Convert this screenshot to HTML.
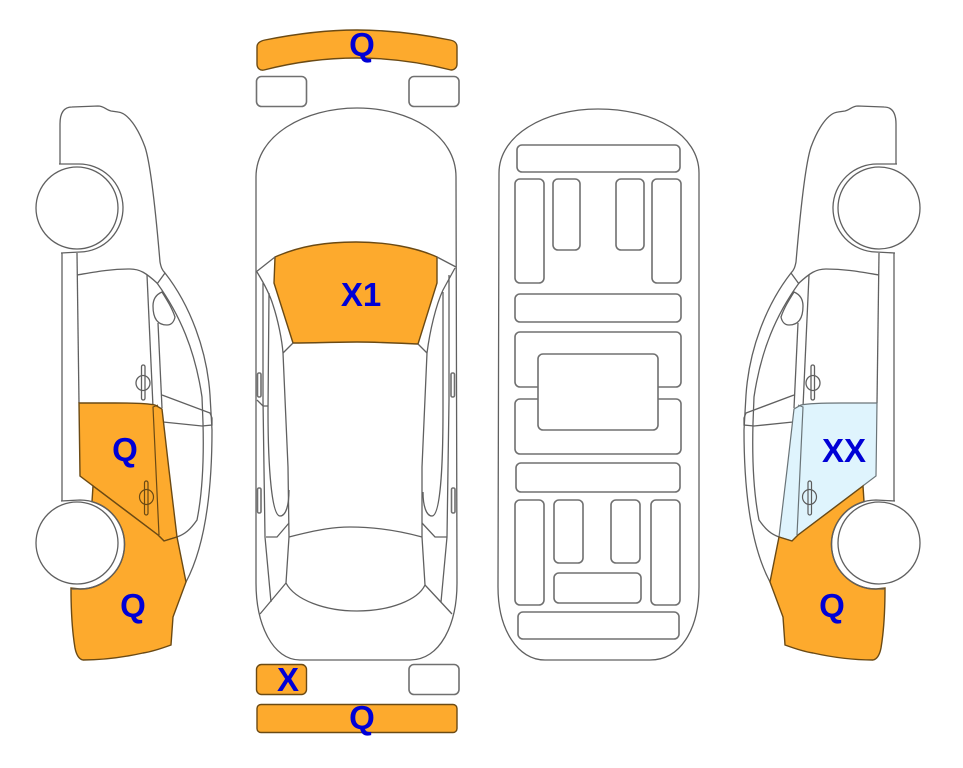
<!DOCTYPE html>
<html>
<head>
<meta charset="utf-8">
<style>
html,body{margin:0;padding:0;background:#fff;width:963px;height:768px;overflow:hidden}
svg{display:block}
.l{fill:none;stroke:#606060;stroke-width:1.3}
.w{fill:#fff;stroke:#606060;stroke-width:1.3}
.r{fill:#fff;stroke:#707070;stroke-width:1.6}
.o{fill:#fdaa2d;stroke:#6b4a14;stroke-width:1.4}
.b{fill:#dff4fd;stroke:#6a7478;stroke-width:1.2}
text{font-family:"Liberation Sans",Arial,sans-serif;font-weight:bold;font-size:33px;fill:#0000d6;text-anchor:middle}
</style>
</head>
<body>
<svg width="963" height="768" viewBox="0 0 963 768" xmlns="http://www.w3.org/2000/svg">
<defs>
<g id="side">
  <path class="l" d="M60 164 L60 124 C60 113 64 107 72 107 L98 106 C104 106 106 110 111 111 L118 112 C128 113 138 128 145 147 C151 165 156 215 160 262 C161 267 162 270 165 273 C190 305 207 350 210 395 L212 430 C212 500 203 550 186 582"/>
  <path class="l" d="M165 273 L157 284"/>
  <path class="l" d="M77 275 C95 272 110 269 130 269 C140 269 146 273 157 283 C180 315 195 350 202 397 L203 423 C204 460 202 495 197 520 C190 530 185 534 177 537"/>
  <path class="l" d="M62 253 L62 501"/>
  <path class="l" d="M77 253 L79 403"/>
  <path class="l" d="M147 275 L153 407"/>
  <path class="l" d="M158 323 L162 408"/>
  <path class="w" d="M162 292 C155 295 153 300 153 306 C153 318 157 325 167 325 C171 325 174 322 175 317 C172 308 167 300 162 292 Z"/>
  <path class="l" d="M162 395 L210 413 L212 418 L212 425 L202 426 L163 422"/>
  <rect class="w" x="141.500" y="365" width="3.500" height="35" rx="1.700"/>
  <ellipse class="l" cx="143" cy="383" rx="7" ry="7.500"/>
  <path class="l" d="M59 164 L78 164 A44 44 0 0 1 80 252 L61 253"/>
  <circle class="w" cx="77" cy="208" r="41"/>
</g>
<g id="sideLower">
  <path class="l" d="M61 501 L80 500 A44.500 44.500 0 0 1 80 589 L72 589"/>
  <circle class="w" cx="77" cy="543" r="41"/>
</g>
<path id="upper" d="M79 403 L115 403 C135 403 150 404 155 405 L162 409 L169 470 L177 537 L164 541 L158 535 L80 476 Z"/>
<path id="lower" d="M93 486 L158 535 L164 541 L177 537 L186 582 L173 617 L171 645 C160 649 150 652 143 653 C125 657 105 660 83 660 C78 659 76 653 75 648 C72 630 71 610 71 588 L80 589 A44.500 44.500 0 0 0 92 501.650 Z"/>
</defs>

<!-- left side view -->
<use href="#side"/>
<use href="#upper" class="o"/>
<use href="#lower" class="o"/>
<path d="M158 405 L153 407 L159 535" fill="none" stroke="#6b4a14" stroke-width="1.200"/>
<rect x="144.500" y="481" width="3.500" height="34" rx="1.700" fill="#fdaa2d" stroke="#6b4a14" stroke-width="1.200"/>
<ellipse cx="146.500" cy="497" rx="7" ry="7.500" fill="none" stroke="#6b4a14" stroke-width="1.200"/>
<use href="#sideLower"/>

<!-- right side view -->
<g transform="translate(956,0) scale(-1,1)">
  <use href="#side"/>
  <use href="#upper" class="b"/>
  <use href="#lower" class="o"/>
  <path d="M158 405 L153 407 L159 535" fill="none" stroke="#6a7478" stroke-width="1.200"/>
  <rect x="144.500" y="481" width="3.500" height="34" rx="1.700" fill="#dff4fd" stroke="#5c5c5c" stroke-width="1.200"/>
  <ellipse cx="146.500" cy="497" rx="7" ry="7.500" fill="none" stroke="#5c5c5c" stroke-width="1.200"/>
  <use href="#sideLower"/>
</g>

<!-- top view -->
<path class="o" d="M257 47 C257 43 260 41 265 40 C295 34 325 30 357 30 C389 30 420 34 450 40 C455 41 457 43 457 47 L457 64 C457 68 454 70 451 70 C420 62 390 58 357 58 C325 58 295 62 264 70 C260 71 257 68 257 64 Z"/>
<rect class="r" x="256.500" y="76.500" width="50" height="30" rx="5"/>
<rect class="r" x="409" y="76.500" width="50" height="30" rx="5"/>
<path class="l" d="M256 177 C256 135 305 108 357 108 C410 108 456 135 456 177 L457 583 C457 625 440 660 410 660 L300 660 C273 660 256 625 256 583 Z"/>
<path class="o" d="M275 257 C300 246 325 242 356 242 C385 242 415 247 437 257 L437 283 L418 344 C395 343 375 342 357 342 C335 342 315 343 293 343 L274 283 Z"/>
<path class="l" d="M256 272 L275 257 M456 267 L437 257"/>
<path class="l" d="M257 272 C265 285 270 295 273 305 C278 320 282 340 283 353 L288 467 L289 537 L286 583 C295 600 325 611 357 611 C390 611 418 600 425 585 L422 537 L422 467 L427 353 C430 330 436 305 443 290 L455 268"/>
<path class="l" d="M283 353 L293 343 M427 353 L418 344"/>
<path class="l" d="M263 283 L263 400 L265 537 L271 602"/>
<path class="l" d="M269 293 L268 410 C268 470 272 516 280 516 C286 516 289 505 289 490"/>
<path class="l" d="M449 275 L449 400 L447 537 L441 602"/>
<path class="l" d="M443 292 L443 410 C443 470 440 516 432 516 C426 516 423 505 423 492"/>
<path class="l" d="M260 614 L286 583 M452 614 L425 585"/>
<path class="l" d="M289 537 C320 529 335 527 350 527 C375 527 400 531 422 537"/>
<path class="l" d="M266 537 L277 537 L289 523 M447 537 L435 537 L422 523"/>
<path class="l" d="M257 400 L263 406 L268 406"/>
<rect class="r" x="257.500" y="373" width="3.500" height="24" rx="1.500"/>
<rect class="r" x="257.500" y="488" width="3.500" height="25" rx="1.500"/>
<rect class="r" x="451" y="373" width="3.500" height="24" rx="1.500"/>
<rect class="r" x="451.500" y="488" width="3.500" height="25" rx="1.500"/>
<rect class="o" x="256.500" y="664.500" width="50" height="30" rx="5"/>
<rect class="r" x="409" y="664.500" width="50" height="30" rx="5"/>
<rect class="o" x="257" y="704.500" width="200" height="28" rx="4"/>

<!-- underside view -->
<path class="l" d="M499 173 C499 135 545 109 598 109 C655 109 699 135 699 173 L699 587 C699 630 680 660 650 660 L545 660 C518 660 498 630 498 587 Z"/>
<rect class="r" x="517" y="145" width="163" height="27" rx="5"/>
<rect class="r" x="515" y="179" width="29" height="104" rx="5"/>
<rect class="r" x="553" y="179" width="27" height="71" rx="5"/>
<rect class="r" x="616" y="179" width="28" height="71" rx="5"/>
<rect class="r" x="652" y="179" width="29" height="104" rx="5"/>
<rect class="r" x="515" y="294" width="166" height="28" rx="5"/>
<rect class="r" x="515" y="332" width="166" height="55" rx="5"/>
<rect class="r" x="515" y="399" width="166" height="55" rx="5"/>
<rect class="r" x="538" y="354" width="120" height="76" rx="5"/>
<rect class="r" x="516" y="463" width="164" height="29" rx="5"/>
<rect class="r" x="515" y="500" width="29" height="105" rx="5"/>
<rect class="r" x="554" y="500" width="29" height="63" rx="5"/>
<rect class="r" x="611" y="500" width="29" height="63" rx="5"/>
<rect class="r" x="651" y="500" width="29" height="105" rx="5"/>
<rect class="r" x="554" y="573" width="87" height="30" rx="5"/>
<rect class="r" x="518" y="612" width="161" height="27" rx="5"/>

<!-- labels -->
<text x="362" y="56">Q</text>
<text x="361" y="306">X1</text>
<text x="288" y="691">X</text>
<text x="362" y="729">Q</text>
<text x="125" y="461">Q</text>
<text x="133" y="617">Q</text>
<text x="832" y="617">Q</text>
<text x="844" y="462">XX</text>
</svg>
</body>
</html>
